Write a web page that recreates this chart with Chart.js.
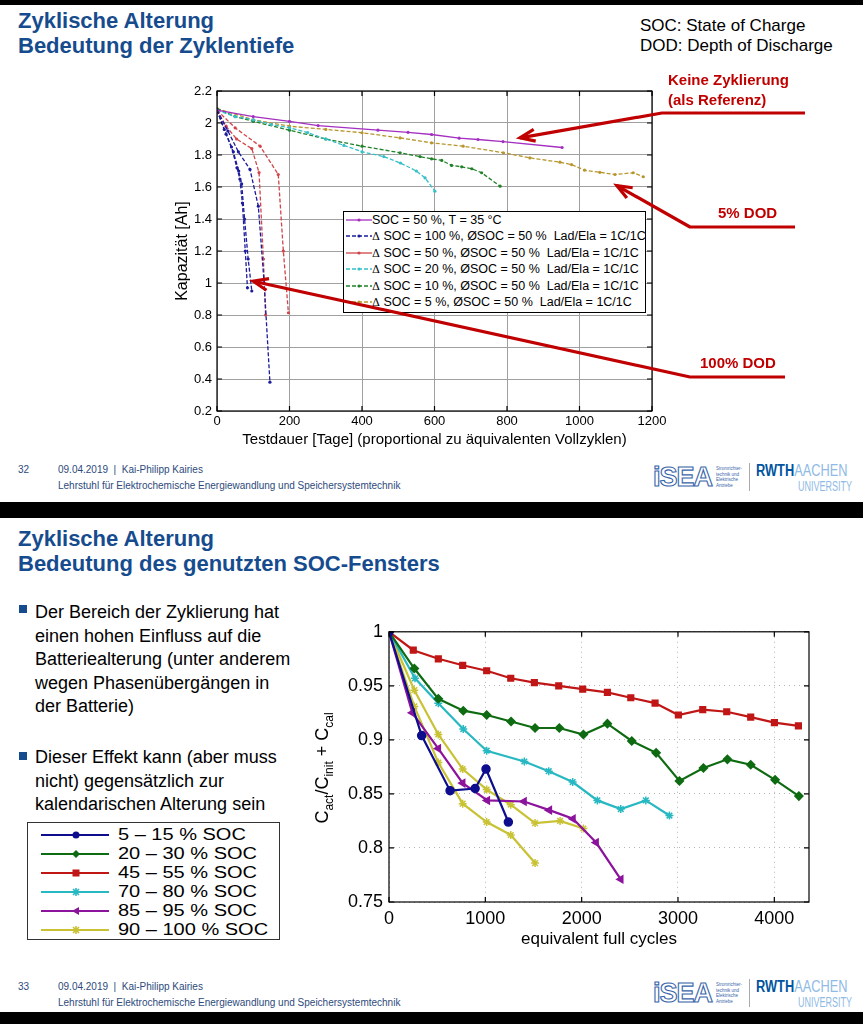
<!DOCTYPE html>
<html>
<head>
<meta charset="utf-8">
<script src="https://cdn.jsdelivr.net/npm/chart.js@4.4.1/dist/chart.umd.min.js"></script>
<style>
  body { margin: 0; background: #000; }
  #page { position: relative; width: 863px; height: 1024px; background: #000; overflow: hidden;
          font-family: 'Liberation Sans', Arial, sans-serif; }
  .slide { position: absolute; left: 0; width: 863px; background: #fff; }
  .abs { position: absolute; white-space: nowrap; }
  .title { color: #164c8e; font-weight: bold; font-size: 22px; line-height: 25px; }
  .hint { color: #000; font-size: 17px; line-height: 20px; }
  .narrow { font-family: 'Liberation Sans Narrow', 'Arial Narrow', 'Liberation Sans', sans-serif; }
  .foot { color: #2d4a7c; font-size: 10px; line-height: 16px; }
  .note { color: #c00000; font-weight: bold; font-size: 15px; line-height: 20px; }
  .bullet { color: #000; font-size: 18px; line-height: 23.5px; }
  .sq { position: absolute; width: 8px; height: 8px; background: #164c8e; }
  .leg1row { position: absolute; left: 0; height: 16px; font-size: 12.5px; line-height: 16px; white-space: pre; }
  .leg1row svg { position: absolute; left: 2px; top: 3px; }
  .leg1row span.t { position: absolute; left: 28px; top: 0; }
  .serif { font-family: 'DejaVu Serif', 'Liberation Serif', serif; font-size: 11px; }
  .leg2row { position: absolute; left: 0; height: 19px; font-size: 16px; line-height: 19px; }
  .leg2row svg { position: absolute; left: 13px; top: 3px; }
  .leg2row span.t { position: absolute; left: 90px; top: 0; transform: scaleX(1.25); transform-origin: left center; }
  .isea { font-weight: bold; font-size: 27px; line-height: 28px; color: #fff; -webkit-text-stroke: 1.1px #3a66aa; letter-spacing: -1px; }
  .isea-sub { font-size: 4.5px; line-height: 5.5px; color: #3a66aa; }
  .rwth { font-weight: bold; font-size: 16px; line-height: 16px; color: #00549f; transform: scaleX(0.8); transform-origin: left top; }
  .rwth span { font-weight: normal; color: #8ebae5; }
  .univ { font-size: 15px; line-height: 14px; color: #8ebae5; transform: scaleX(0.6); transform-origin: left top; }
</style>
</head>
<body>
<div id="page">
  <div class="slide" style="top:5px;height:497px;"></div>
  <div class="slide" style="top:518px;height:494px;"></div>

  <!-- slide 1 header -->
  <div class="abs title" style="left:18px;top:8px;">Zyklische Alterung<br>Bedeutung der Zyklentiefe</div>
  <div class="abs hint" style="left:640px;top:16px;">SOC: State of Charge<br>DOD: Depth of Discharge</div>

  <canvas id="c1" width="863" height="380" style="position:absolute;left:0;top:75px;"></canvas>

  <div class="abs" id="leg1" style="left:343px;top:211px;width:301px;height:100px;border:1px solid #000;background:#fff;"></div>
  <svg id="arrows" width="863" height="460" style="position:absolute;left:0;top:0;pointer-events:none;"></svg>

  <div class="abs note" style="left:668px;top:70px;">Keine Zyklierung<br>(als Referenz)</div>
  <div class="abs note" style="left:718px;top:203px;">5% DOD</div>
  <div class="abs note" style="left:700px;top:353px;">100% DOD</div>

  <!-- slide 1 footer -->
  <div class="abs foot narrow" style="left:18px;top:462px;">32</div>
  <div class="abs foot narrow" style="left:58px;top:462px;">09.04.2019&nbsp; | &nbsp;Kai-Philipp Kairies<br>Lehrstuhl für Elektrochemische Energiewandlung und Speichersystemtechnik</div>
  <div class="abs isea" style="left:653px;top:463px;">iSEA</div>
  <div class="abs isea-sub" style="left:716px;top:466px;">Stromrichter-<br>technik und<br>Elektrische<br>Antriebe</div>
  <div class="abs" style="left:749px;top:463px;width:1px;height:28px;background:#aaa;"></div>
  <div class="abs rwth narrow" style="left:756px;top:463px;">RWTH<span>AACHEN</span></div>
  <div class="abs univ narrow" style="left:798px;top:479px;">UNIVERSITY</div>

  <!-- slide 2 header -->
  <div class="abs title" style="left:18px;top:526px;">Zyklische Alterung<br>Bedeutung des genutzten SOC-Fensters</div>

  <div class="sq" style="left:19px;top:605px;"></div>
  <div class="abs bullet" style="left:35px;top:601px;">Der Bereich der Zyklierung hat<br>einen hohen Einfluss auf die<br>Batteriealterung (unter anderem<br>wegen Phasenübergängen in<br>der Batterie)</div>
  <div class="sq" style="left:19px;top:752px;"></div>
  <div class="abs bullet" style="left:35px;top:746px;">Dieser Effekt kann (aber muss<br>nicht) gegensätzlich zur<br>kalendarischen Alterung sein</div>

  <div class="abs" id="leg2" style="left:27px;top:822px;width:251px;height:116px;border:1px solid #333;background:#fff;"></div>

  <canvas id="c2" width="540" height="345" style="position:absolute;left:290px;top:615px;"></canvas>
  <div class="abs" style="left:222px;top:756px;width:200px;height:24px;line-height:24px;font-size:18px;text-align:center;transform:rotate(-90deg);">C<sub style="font-size:12px">act</sub>/C<sub style="font-size:12px">init</sub> + C<sub style="font-size:12px">cal</sub></div>

  <!-- slide 2 footer -->
  <div class="abs foot narrow" style="left:18px;top:979px;">33</div>
  <div class="abs foot narrow" style="left:58px;top:979px;">09.04.2019&nbsp; | &nbsp;Kai-Philipp Kairies<br>Lehrstuhl für Elektrochemische Energiewandlung und Speichersystemtechnik</div>
  <div class="abs isea" style="left:653px;top:979px;">iSEA</div>
  <div class="abs isea-sub" style="left:716px;top:982px;">Stromrichter-<br>technik und<br>Elektrische<br>Antriebe</div>
  <div class="abs" style="left:749px;top:979px;width:1px;height:28px;background:#aaa;"></div>
  <div class="abs rwth narrow" style="left:756px;top:979px;">RWTH<span>AACHEN</span></div>
  <div class="abs univ narrow" style="left:798px;top:995px;">UNIVERSITY</div>
</div>

<script>
// ---- top chart: capacity [Ah] over test duration [days] ----
const refDays = [0, 100, 200, 279, 444, 527, 592, 668, 720, 789, 952];
const refCap = [2.08, 2.04, 2.01, 1.984, 1.955, 1.942, 1.928, 1.905, 1.897, 1.884, 1.847];

const dod100aDays = [0, 20, 40, 55, 63, 70, 78, 84];
const dod100aCap = [2.08, 1.96, 1.85, 1.72, 1.65, 1.50, 1.20, 0.97];
const dod100bDays = [0, 25, 45, 60, 68, 76, 86, 96];
const dod100bCap = [2.08, 1.93, 1.82, 1.70, 1.62, 1.40, 1.15, 0.95];
const dod100cDays = [0, 30, 59, 91, 114, 130, 146];
const dod100cCap = [2.08, 1.95, 1.82, 1.71, 1.48, 1.00, 0.38];

const dod50aDays = [0, 25, 54, 96, 116, 128, 134];
const dod50aCap = [2.08, 1.98, 1.90, 1.84, 1.69, 1.15, 0.80];
const dod50bDays = [0, 50, 119, 169, 183, 197];
const dod50bCap = [2.08, 1.97, 1.855, 1.678, 1.20, 0.814];

const dod20Days = [0, 50, 100, 150, 200, 250, 300, 350, 400, 460, 506, 550, 574, 601];
const dod20Cap = [2.08, 2.04, 2.02, 1.99, 1.97, 1.94, 1.90, 1.86, 1.82, 1.79, 1.75, 1.70, 1.657, 1.574];

const dod10Days = [0, 50, 100, 200, 300, 400, 505, 560, 592, 620, 647, 675, 703, 730, 781];
const dod10Cap = [2.09, 2.04, 2.01, 1.955, 1.90, 1.855, 1.814, 1.79, 1.776, 1.766, 1.735, 1.726, 1.714, 1.689, 1.605];

const dod5Days = [0, 100, 200, 300, 400, 505, 592, 679, 790, 863, 946, 978, 1014, 1056, 1098, 1148, 1176];
const dod5Cap = [2.09, 2.02, 1.98, 1.96, 1.939, 1.907, 1.876, 1.855, 1.814, 1.782, 1.755, 1.74, 1.705, 1.692, 1.678, 1.689, 1.664];

const topLabels = ['SOC = 50 %, T = 35 °C',
  'SOC = 100 %, ØSOC = 50 %  Lad/Ela = 1C/1C',
  'SOC = 50 %, ØSOC = 50 %  Lad/Ela = 1C/1C',
  'SOC = 20 %, ØSOC = 50 %  Lad/Ela = 1C/1C',
  'SOC = 10 %, ØSOC = 50 %  Lad/Ela = 1C/1C',
  'SOC = 5 %, ØSOC = 50 %  Lad/Ela = 1C/1C'];
const topXTicks = [0, 200, 400, 600, 800, 1000, 1200];

// ---- bottom chart: relative capacity over equivalent full cycles ----
const cyc515 = [0, 339, 634, 894, 1007, 1239];
const cap515 = [1, 0.904, 0.853, 0.855, 0.873, 0.824];
const cyc2030 = [0, 263, 512, 771, 1014, 1267, 1516, 1768, 2018, 2267, 2520, 2773, 3015, 3264, 3513, 3755, 4008, 4255];
const cap2030 = [1, 0.966, 0.938, 0.927, 0.923, 0.917, 0.911, 0.911, 0.905, 0.915, 0.899, 0.888, 0.862, 0.874, 0.882, 0.877, 0.863, 0.848];
const cyc4555 = [0, 252, 512, 765, 1014, 1264, 1509, 1762, 2011, 2267, 2510, 2762, 3004, 3257, 3506, 3755, 4001, 4250];
const cap4555 = [1, 0.983, 0.975, 0.969, 0.964, 0.957, 0.953, 0.950, 0.947, 0.944, 0.939, 0.934, 0.923, 0.928, 0.926, 0.921, 0.916, 0.913];
const cyc7080 = [0, 270, 512, 771, 1014, 1405, 1658, 1907, 2163, 2406, 2666, 2911];
const cap7080 = [1, 0.957, 0.934, 0.910, 0.890, 0.880, 0.871, 0.861, 0.844, 0.836, 0.844, 0.830];
const cyc8595 = [0, 242, 512, 765, 1021, 1402, 1665, 1910, 2150, 2406];
const cap8595 = [1, 0.925, 0.892, 0.860, 0.844, 0.843, 0.835, 0.827, 0.805, 0.771];
const cyc90100a = [0, 263, 512, 765, 1014, 1264, 1516, 1776, 2018];
const cap90100a = [1, 0.946, 0.905, 0.873, 0.854, 0.840, 0.823, 0.825, 0.818];
const cyc90100b = [0, 263, 512, 765, 1014, 1264, 1516];
const cap90100b = [1, 0.931, 0.879, 0.841, 0.824, 0.812, 0.786];

const bottomLabels = ['5 – 15 % SOC', '20 – 30 % SOC', '45 – 55 % SOC', '70 – 80 % SOC', '85 – 95 % SOC', '90 – 100 % SOC'];
const bottomXTicks = [0, 1000, 2000, 3000, 4000];

Chart.defaults.font.family = "'Liberation Sans', Arial, sans-serif";
Chart.defaults.color = '#000';

function pts(xs, ys) { return xs.map((x, i) => ({ x: x, y: ys[i] })); }

function topSet(xs, ys, color, dash) {
  return { data: pts(xs, ys), showLine: true, borderColor: color, backgroundColor: color,
    borderWidth: 1.3, borderDash: dash, pointRadius: 1.6, pointBorderWidth: 0 };
}

function botSet(xs, ys, color, style, rot) {
  return { data: pts(xs, ys), showLine: true, borderColor: color, backgroundColor: color,
    borderWidth: 2.2, pointStyle: style, pointRotation: rot || 0, pointRadius: 4, pointBorderWidth: 1.5 };
}

// box around plot + inward tick marks, matlab style
const boxTicks = {
  id: 'boxTicks',
  afterDraw(chart) {
    const { ctx, chartArea: a, scales: { x, y } } = chart;
    ctx.save();
    ctx.strokeStyle = '#000';
    ctx.lineWidth = 1.2;
    ctx.strokeRect(a.left, a.top, a.right - a.left, a.bottom - a.top);
    ctx.beginPath();
    x.ticks.forEach(t => {
      const p = x.getPixelForValue(t.value);
      ctx.moveTo(p, a.bottom); ctx.lineTo(p, a.bottom - 5);
      ctx.moveTo(p, a.top); ctx.lineTo(p, a.top + 5);
    });
    y.ticks.forEach(t => {
      const p = y.getPixelForValue(t.value);
      ctx.moveTo(a.left, p); ctx.lineTo(a.left + 5, p);
      ctx.moveTo(a.right, p); ctx.lineTo(a.right - 5, p);
    });
    ctx.stroke();
    ctx.restore();
  }
};

const topColors = ['#a42fc0', '#1c1c9c', '#d0454a', '#35bfc8', '#21822a', '#b8962e'];
const topDash = [[], [4, 2], [4, 2], [4, 2], [4, 2], [4, 2]];

const chart1 = new Chart(document.getElementById('c1'), {
  type: 'scatter',
  data: {
    datasets: [
      topSet(refDays, refCap, topColors[0], topDash[0]),
      topSet(dod100aDays, dod100aCap, topColors[1], topDash[1]),
      topSet(dod100bDays, dod100bCap, topColors[1], topDash[1]),
      topSet(dod100cDays, dod100cCap, topColors[1], topDash[1]),
      topSet(dod50aDays, dod50aCap, topColors[2], topDash[2]),
      topSet(dod50bDays, dod50bCap, topColors[2], topDash[2]),
      topSet(dod20Days, dod20Cap, topColors[3], topDash[3]),
      topSet(dod10Days, dod10Cap, topColors[4], topDash[4]),
      topSet(dod5Days, dod5Cap, topColors[5], topDash[5])
    ]
  },
  options: {
    responsive: false,
    animation: false,
    layout: { padding: { left: 169, right: 211, top: 16, bottom: 4 } },
    plugins: { legend: { display: false }, tooltip: { enabled: false } },
    scales: {
      x: {
        type: 'linear', min: 0, max: 1200,
        afterBuildTicks: s => { s.ticks = topXTicks.map(v => ({ value: v })); },
        ticks: { font: { size: 13 }, padding: 3, callback: v => String(v) },
        grid: { color: '#a0a0a0', drawTicks: false },
        border: { display: false },
        title: { display: true, text: 'Testdauer [Tage] (proportional zu äquivalenten Vollzyklen)', font: { size: 15 }, padding: { top: 2, bottom: 2 } },
        afterFit: s => { s.height = 40; }
      },
      y: {
        min: 0.2, max: 2.2,
        ticks: { stepSize: 0.2, font: { size: 13 }, padding: 5, callback: v => String(Number(v.toFixed(1))) },
        grid: { color: '#a0a0a0', drawTicks: false },
        border: { display: false },
        title: { display: true, text: 'Kapazität [Ah]', font: { size: 16 }, padding: { top: 4, bottom: 0 } },
        afterFit: s => { s.width = 48; }
      }
    }
  },
  plugins: [boxTicks]
});

const botColors = ['#0d0d8e', '#0e6b12', '#c01616', '#28b8c2', '#8c139c', '#c8c234'];

new Chart(document.getElementById('c2'), {
  type: 'scatter',
  data: {
    datasets: [
      botSet(cyc515, cap515, botColors[0], 'circle'),
      botSet(cyc2030, cap2030, botColors[1], 'rectRot'),
      botSet(cyc4555, cap4555, botColors[2], 'rect'),
      botSet(cyc7080, cap7080, botColors[3], 'star'),
      botSet(cyc8595, cap8595, botColors[4], 'triangle', -90),
      botSet(cyc90100a, cap90100a, botColors[5], 'star'),
      botSet(cyc90100b, cap90100b, botColors[5], 'star')
    ]
  },
  options: {
    responsive: false,
    animation: false,
    layout: { padding: { left: 40, right: 21, top: 16, bottom: 6 } },
    plugins: { legend: { display: false }, tooltip: { enabled: false } },
    scales: {
      x: {
        type: 'linear', min: 0, max: 4360,
        afterBuildTicks: s => { s.ticks = bottomXTicks.map(v => ({ value: v })); },
        ticks: { font: { size: 18 }, padding: 6, callback: v => String(v) },
        grid: { color: '#b5b5b5', drawTicks: false },
        border: { display: false, dash: [1, 4] },
        title: { display: true, text: 'equivalent full cycles', font: { size: 17 }, padding: { top: 2, bottom: 4 } },
        afterFit: s => { s.height = 52; }
      },
      y: {
        min: 0.75, max: 1,
        ticks: { stepSize: 0.05, font: { size: 18 }, padding: 6, callback: v => String(Number(v.toFixed(2))) },
        grid: { color: '#b5b5b5', drawTicks: false },
        border: { display: false, dash: [1, 4] },
        afterFit: s => { s.width = 59; }
      }
    }
  },
  plugins: [boxTicks]
});

// ---- red annotation arrows (page pixels for the tail, data values for the tip) ----
const arrowNotes = [
  { from: [805, 113], bend: [662, 113], tip: [836, 1.907] },
  { from: [795, 227], bend: [690, 227], tip: [1103, 1.609] },
  { from: [785, 377], bend: [690, 377], tip: [100, 1.011] }
];
(function drawArrows() {
  const svg = document.getElementById('arrows');
  const off = 75;
  let html = '';
  arrowNotes.forEach(a => {
    const tx = chart1.scales.x.getPixelForValue(a.tip[0]);
    const ty = chart1.scales.y.getPixelForValue(a.tip[1]) + off;
    const ang = Math.atan2(ty - a.bend[1], tx - a.bend[0]);
    const L = 16, w = 0.38;
    const h1 = [tx - L * Math.cos(ang - w), ty - L * Math.sin(ang - w)];
    const h2 = [tx - L * Math.cos(ang + w), ty - L * Math.sin(ang + w)];
    html += `<polyline points="${a.from.join(',')} ${a.bend.join(',')} ${tx},${ty}" fill="none" stroke="#c00000" stroke-width="3.2" stroke-linejoin="round"/>`;
    html += `<polyline points="${h1.join(',')} ${tx},${ty} ${h2.join(',')}" fill="none" stroke="#c00000" stroke-width="3.2" stroke-linejoin="miter"/>`;
  });
  svg.innerHTML = html;
})();

// ---- legends ----
function markerSvg(style, color, cx, cy) {
  if (style === 'circle') return `<circle cx="${cx}" cy="${cy}" r="3.5" fill="${color}"/>`;
  if (style === 'rectRot') return `<polygon points="${cx},${cy - 4} ${cx + 4},${cy} ${cx},${cy + 4} ${cx - 4},${cy}" fill="${color}"/>`;
  if (style === 'rect') return `<rect x="${cx - 3.5}" y="${cy - 3.5}" width="7" height="7" fill="${color}"/>`;
  if (style === 'triangle') return `<polygon points="${cx - 4},${cy} ${cx + 3},${cy - 4} ${cx + 3},${cy + 4}" fill="${color}"/>`;
  return `<path d="M${cx - 4},${cy} L${cx + 4},${cy} M${cx},${cy - 4} L${cx},${cy + 4} M${cx - 3},${cy - 3} L${cx + 3},${cy + 3} M${cx - 3},${cy + 3} L${cx + 3},${cy - 3}" stroke="${color}" stroke-width="1.6"/>`;
}

const leg1 = document.getElementById('leg1');
topLabels.forEach((lab, i) => {
  const row = document.createElement('div');
  row.className = 'leg1row';
  row.style.top = (i * 16.4) + 'px';
  const dash = topDash[i].length && i !== 2 ? 'stroke-dasharray="4 2"' : '';
  const prefix = i === 0 ? '' : '<span class="serif">Δ</span> ';
  row.innerHTML = `<svg width="26" height="10"><line x1="0" y1="5" x2="26" y2="5" stroke="${topColors[i]}" stroke-width="1.3" ${dash}/><circle cx="13" cy="5" r="1.6" fill="${topColors[i]}"/></svg><span class="t">${prefix}${lab}</span>`;
  leg1.appendChild(row);
});

const botStyles = ['circle', 'rectRot', 'rect', 'star', 'triangle', 'star'];
const leg2 = document.getElementById('leg2');
bottomLabels.forEach((lab, i) => {
  const row = document.createElement('div');
  row.className = 'leg2row';
  row.style.top = (2 + i * 18.9) + 'px';
  row.innerHTML = `<svg width="70" height="14"><line x1="0" y1="7" x2="68" y2="7" stroke="${botColors[i]}" stroke-width="2.2"/>${markerSvg(botStyles[i], botColors[i], 35, 7)}</svg><span class="t">${lab}</span>`;
  leg2.appendChild(row);
});
</script>
</body>
</html>
